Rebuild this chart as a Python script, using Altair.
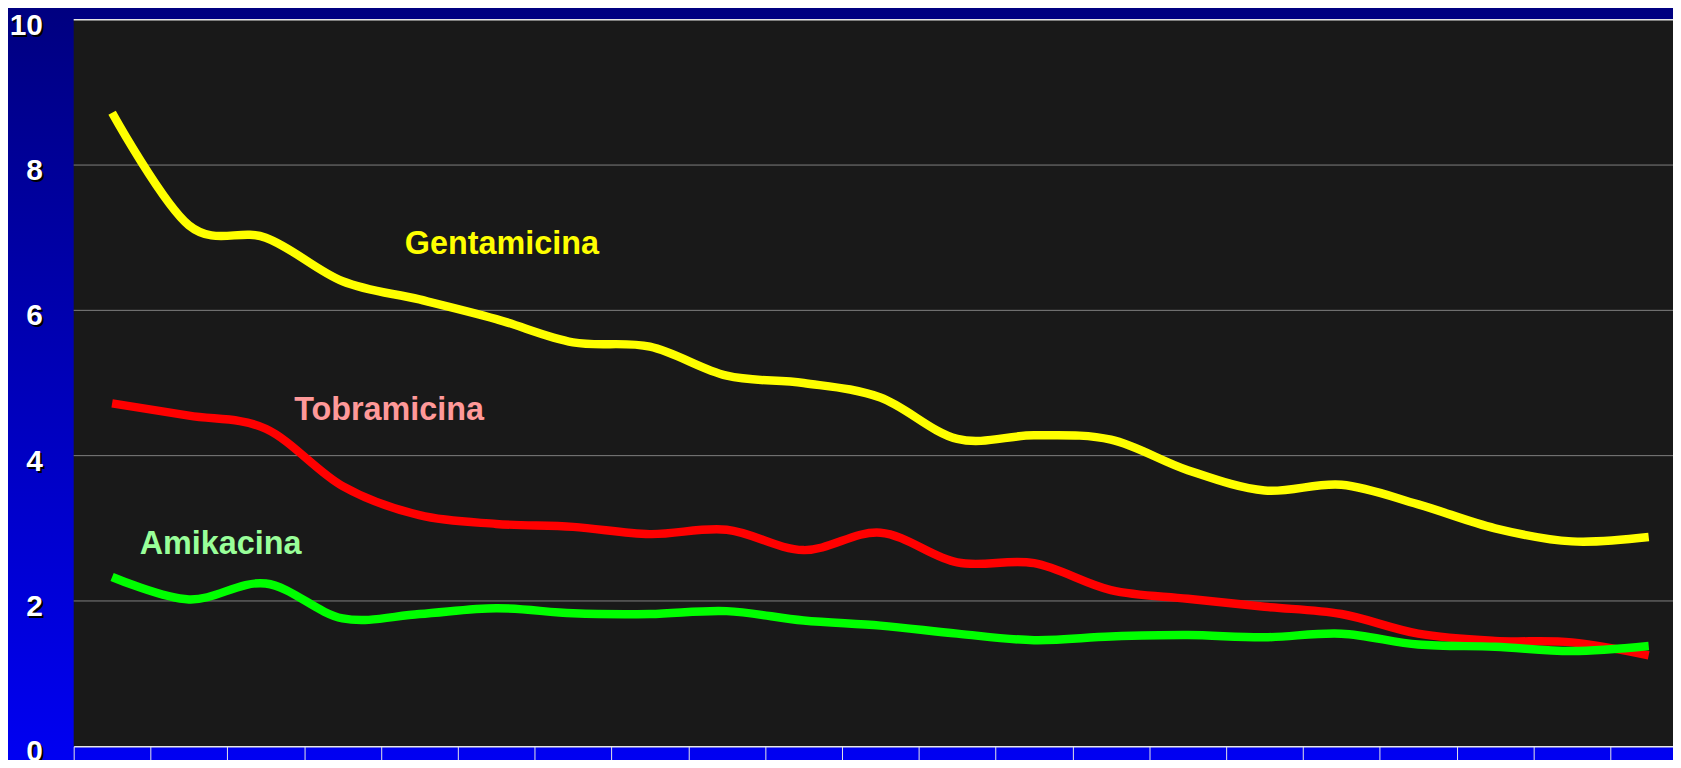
import altair as alt
import pandas as pd

# ---- data ----
periods = list(range(1, 22))
gentamicina = [8.72, 7.17, 7.0, 6.4, 6.15, 5.88, 5.56, 5.5, 5.1, 5.0, 4.8,
               4.23, 4.28, 4.22, 3.8, 3.52, 3.6, 3.33, 3.0, 2.82, 2.88]
tobramicina = [4.72, 4.55, 4.37, 3.58, 3.18, 3.06, 3.02, 2.92, 2.98, 2.7, 2.94,
               2.53, 2.52, 2.15, 2.03, 1.92, 1.82, 1.55, 1.45, 1.43, 1.25]
amikacina = [2.33, 2.02, 2.24, 1.76, 1.82, 1.9, 1.83, 1.82, 1.86, 1.73, 1.66,
             1.55, 1.46, 1.51, 1.53, 1.5, 1.55, 1.4, 1.37, 1.31, 1.38]

series_names = ["Gentamicina", "Tobramicina", "Amikacina"]
series_colors = ["#FFFF00", "#FF0000", "#00FF00"]
label_colors = ["#FFFF00", "#FF9999", "#99FF99"]
label_pos = [4.31, 2.87, 0.86]
label_val = [6.77, 4.49, 2.65]
y_ticks = [0, 2, 4, 6, 8, 10]

# ---- layout ----
W, H = 1607, 730
BAND = 77.2
XMAX = W / BAND
FONT = "Liberation Sans"

rows = []
for name, vals in zip(series_names, [gentamicina, tobramicina, amikacina]):
    for p, v in zip(periods, vals):
        rows.append({"serie": name, "pos": p - 0.5, "valor": v})
df = pd.DataFrame(rows)

labels_df = pd.DataFrame({"serie": series_names, "pos": label_pos,
                          "valor": label_val, "col": label_colors})
ticks_df = pd.DataFrame({"v": y_ticks})
grid_df = pd.DataFrame({"v": y_ticks[1:-1]})
top_df = pd.DataFrame({"v": [y_ticks[-1]]})
one = pd.DataFrame({"a": [0]})

xs = alt.Scale(domain=[0, XMAX], nice=False, zero=False)
ys = alt.Scale(domain=[y_ticks[0], y_ticks[-1]], nice=False)

gradient = {
    "gradient": "linear",
    "x1": 0, "x2": 0, "y1": 0, "y2": 1,
    "stops": [
        {"offset": 0, "color": "#000080"},
        {"offset": 1, "color": "#0000F4"},
    ],
}

bg = alt.Chart(one).mark_rect(fill=gradient, strokeWidth=0).encode(
    x=alt.value(-70), x2=alt.value(W + 10), y=alt.value(-12), y2=alt.value(H + 30)
)
plot_bg = alt.Chart(one).mark_rect(fill="#191919", strokeWidth=0).encode(
    x=alt.value(0), x2=alt.value(W), y=alt.value(0), y2=alt.value(H)
)
grid = alt.Chart(grid_df).mark_rule(color="#808080", strokeWidth=1).encode(
    y=alt.Y("v:Q", scale=ys, axis=None), x=alt.value(0), x2=alt.value(W)
)
top_border = alt.Chart(top_df).mark_rule(color="#E6E6E6", strokeWidth=1.5).encode(
    y=alt.Y("v:Q", scale=ys, axis=None), x=alt.value(0), x2=alt.value(W)
)

lines = alt.Chart(df).mark_line(interpolate="cardinal", strokeWidth=8.5, strokeCap="butt").encode(
    x=alt.X("pos:Q", scale=xs, axis=alt.Axis(
        values=[p - 1 for p in periods], labels=False, ticks=True, tickSize=24,
        tickColor="#E6E6E6", tickWidth=1, domainColor="#E6E6E6", domainWidth=1.5,
        grid=False, title=None, zindex=1)),
    y=alt.Y("valor:Q", scale=ys, axis=alt.Axis(
        labels=False, ticks=False, grid=False, domainColor="#E6E6E6",
        domainWidth=1.5, title=None, zindex=1)),
    color=alt.Color("serie:N", scale=alt.Scale(domain=series_names, range=series_colors), legend=None),
    detail="serie:N",
)

series_labels = alt.Chart(labels_df).mark_text(
    font=FONT, fontWeight="bold", fontSize=32.5, align="left", baseline="alphabetic"
).encode(
    x=alt.X("pos:Q", scale=xs),
    y=alt.Y("valor:Q", scale=ys),
    text="serie:N",
    color=alt.Color("col:N", scale=None),
)

ytxt_shadow = alt.Chart(ticks_df).mark_text(
    font=FONT, fontWeight="bold", fontSize=30, align="right", baseline="middle",
    color="#000000", dx=2, dy=8
).encode(x=alt.value(-31), y=alt.Y("v:Q", scale=ys), text="v:Q")
ytxt = alt.Chart(ticks_df).mark_text(
    font=FONT, fontWeight="bold", fontSize=30, align="right", baseline="middle",
    color="#FFFFFF", dy=6
).encode(x=alt.value(-31), y=alt.Y("v:Q", scale=ys), text="v:Q")

chart = alt.layer(
    bg, plot_bg, grid, top_border, lines, series_labels, ytxt_shadow, ytxt
).properties(
    width=W, height=H,
    padding={"left": 66, "top": 10, "right": 0, "bottom": 12},
    autosize=alt.AutoSizeParams(type="none"),
    background="#000080",
).configure_view(stroke=None)

chart.save("out.html", embed_options={"renderer": "svg", "actions": False})
